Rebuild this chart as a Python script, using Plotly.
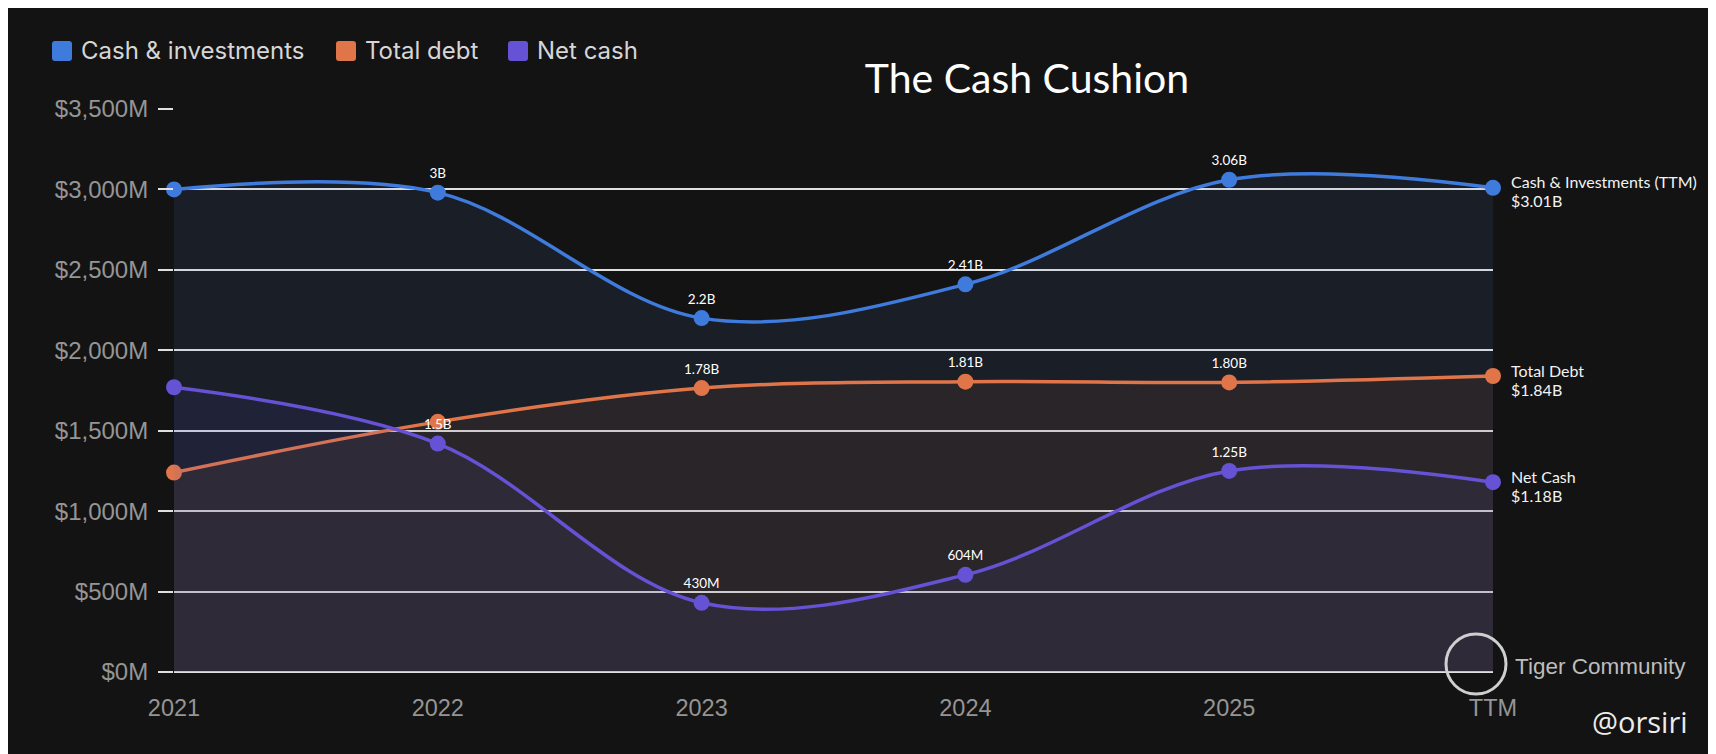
import plotly.graph_objects as go

years = ["2021", "2022", "2023", "2024", "2025", "TTM"]
cash = [3000, 2980, 2200, 2410, 3060, 3010]
debt = [1240, 1555, 1765, 1805, 1800, 1840]
net_cash = [1770, 1420, 430, 604, 1250, 1180]

cash_labels = ["", "3B", "2.2B", "2.41B", "3.06B", ""]
debt_labels = ["", "", "1.78B", "1.81B", "1.80B", ""]
net_labels = ["", "1.5B", "430M", "604M", "1.25B", ""]

y_ticks = [0, 500, 1000, 1500, 2000, 2500, 3000, 3500]
y_ticktext = [f"${v:,}M" for v in y_ticks]

legend_names = ["Cash & investments", "Total debt", "Net cash"]
side_names = ["Cash & Investments (TTM)", "Total Debt", "Net Cash"]

colors = ["#3f7bdc", "#e0754a", "#6552d4"]
fills = ["rgba(75,125,220,0.10)", "rgba(200,110,60,0.10)", "rgba(100,85,200,0.10)"]
legend_x = [44, 328, 500]

BG = "#131313"
L, R, T, B = 166, 1485, 101, 664
W, H = R - L, B - T


def px(x):
    return (x - L) / W


def py(y):
    return (B - y) / H


def rounded_square(x0, y0, size, r):
    x1, y1 = x0 + size, y0 + size
    pts = [
        f"M {px(x0 + r)} {py(y0)}",
        f"L {px(x1 - r)} {py(y0)}",
        f"Q {px(x1)} {py(y0)} {px(x1)} {py(y0 + r)}",
        f"L {px(x1)} {py(y1 - r)}",
        f"Q {px(x1)} {py(y1)} {px(x1 - r)} {py(y1)}",
        f"L {px(x0 + r)} {py(y1)}",
        f"Q {px(x0)} {py(y1)} {px(x0)} {py(y1 - r)}",
        f"L {px(x0)} {py(y0 + r)}",
        f"Q {px(x0)} {py(y0)} {px(x0 + r)} {py(y0)}",
        "Z",
    ]
    return " ".join(pts)


all_vals = [cash, debt, net_cash]
all_labels = [cash_labels, debt_labels, net_labels]

fig = go.Figure()

for name, vals, labels, col, fillcol in zip(legend_names, all_vals, all_labels, colors, fills):
    fig.add_trace(go.Scatter(
        x=years, y=vals, mode="lines+markers+text", name=name,
        line=dict(color=col, width=3.5, shape="spline", smoothing=1.0),
        marker=dict(color=col, size=16),
        fill="tozeroy", fillcolor=fillcol,
        text=labels, textposition="top center",
        textfont=dict(color="#ffffff", size=13.5, family="Lato"),
        showlegend=False, hoverinfo="skip", cliponaxis=False,
    ))

# legend (manual, to match positions)
for name, col, lx in zip(legend_names, colors, legend_x):
    fig.add_shape(
        type="path", xref="paper", yref="paper",
        path=rounded_square(lx, 33, 20, 3),
        fillcolor=col, line=dict(width=0),
    )
    fig.add_annotation(
        x=px(lx + 27), y=py(42.5), xref="paper", yref="paper",
        text=name, showarrow=False, xanchor="left", yanchor="middle",
        font=dict(color="#d6d6d6", size=24, family="Inter"),
    )

# right-side end labels
for side, vals in zip(side_names, all_vals):
    fig.add_annotation(
        x=years[-1], y=vals[-1], xref="x", yref="y",
        text=side, showarrow=False, xanchor="left", yanchor="middle",
        xshift=16, yshift=6,
        font=dict(color="#f2f2f2", size=16, family="Lato"),
    )
    fig.add_annotation(
        x=years[-1], y=vals[-1], xref="x", yref="y",
        text=f"${vals[-1]/1000:.2f}B", showarrow=False,
        xanchor="left", yanchor="middle", xshift=16, yshift=-13,
        font=dict(color="#f2f2f2", size=16, family="Lato"),
    )

# watermarks
fig.add_annotation(
    x=px(1680), y=py(658), xref="paper", yref="paper",
    text="Tiger Community", showarrow=False, xanchor="right", yanchor="middle",
    font=dict(color="#bdbdbd", size=22.5, family="Liberation Sans"),
)
fig.add_annotation(
    x=px(1682), y=py(713), xref="paper", yref="paper",
    text="@orsiri", showarrow=False, xanchor="right", yanchor="middle",
    font=dict(color="#ececec", size=29, family="Open Sans"),
)
fig.add_shape(
    type="circle", xref="paper", yref="paper",
    x0=px(1438), x1=px(1498), y0=py(686), y1=py(626),
    line=dict(color="#cfcfcf", width=3), fillcolor="rgba(0,0,0,0)",
)

fig.update_layout(
    width=1716, height=754,
    paper_bgcolor=BG, plot_bgcolor=BG,
    margin=dict(l=L, r=1716 - R, t=T, b=754 - B),
    showlegend=False,
    title=dict(
        text="The Cash Cushion", x=1019 / 1716, xanchor="center",
        y=1 - 71 / 754, yanchor="middle",
        font=dict(color="#ffffff", size=41, family="Lato"),
    ),
    xaxis=dict(
        type="category", range=[0, 5], showgrid=False, zeroline=False,
        showline=False, ticks="", ticklabelstandoff=19,
        tickfont=dict(color="#959595", size=23.5, family="Liberation Sans"),
    ),
    yaxis=dict(
        range=[0, 3500], tickvals=y_ticks, ticktext=y_ticktext,
        showgrid=True, gridcolor="#e0e0e0", gridwidth=2,
        zeroline=True, zerolinecolor="#e0e0e0", zerolinewidth=2,
        ticks="outside", ticklen=15, tickcolor="#e0e0e0", tickwidth=2,
        showline=False, ticklabelstandoff=5,
        tickfont=dict(color="#959595", size=24, family="Liberation Sans"),
    ),
)

fig.write_html("out.html")
